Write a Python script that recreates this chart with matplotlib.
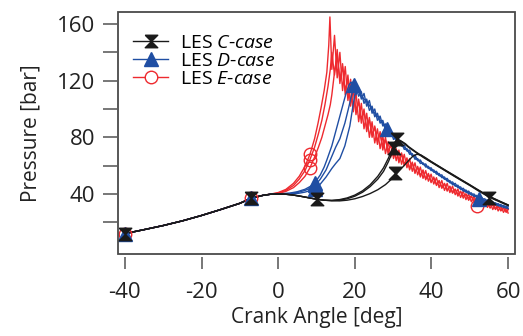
import matplotlib
matplotlib.use("Agg")
import matplotlib.pyplot as plt
from matplotlib.lines import Line2D
from matplotlib.patches import Rectangle

plt.rcParams["font.family"] = ["Open Sans", "DejaVu Sans"]
plt.rcParams["mathtext.fontset"] = "custom"
plt.rcParams["mathtext.rm"] = "Open Sans"
plt.rcParams["mathtext.it"] = "Open Sans:italic"
plt.rcParams["axes.unicode_minus"] = False

# compression stroke, shared by every cycle
COMP_CA = [-40, -35, -30, -25, -20, -15, -10, -7, -4]
COMP_P = [12.0, 14.8, 17.7, 21.0, 24.8, 29.0, 33.4, 37.0, 39.0]

# expansion samples (crank angle) used for the oscillating tails
GRID = [14.0, 14.7, 15.4, 16.1, 16.8, 17.5, 18.2, 18.9, 19.6, 20.3,
        21.0, 21.7, 22.4, 23.1, 23.8, 24.5, 25.2, 25.9, 26.6, 27.3,
        28.0, 28.7, 29.4, 30.1, 30.8, 31.5, 32.2, 32.9, 33.6, 34.3,
        35.0, 35.7, 36.4, 37.1, 37.8, 38.5, 39.2, 39.9, 40.6, 41.3,
        42.0, 42.7, 43.4, 44.1, 44.8, 45.5, 46.2, 46.9, 47.6, 48.3,
        49.0, 49.7, 50.4, 51.1, 51.8, 52.5, 53.2, 53.9, 54.6, 55.3,
        56.0, 56.7, 57.4, 58.1, 58.8, 59.5, 60.0]

# --- E-case (red) ---
E_RISE_CA = [
    [-2, 0, 2, 4, 5.5, 7, 8.3, 9.5, 10.4, 11.2, 12, 12.7, 13.2, 13.5],
    [-2, 0, 2, 4, 5.5, 7, 8.3, 9.5, 10.5, 11.4, 12.2, 13, 13.6],
    [-2, 0, 2, 4, 5.5, 7, 8.3, 9.5, 10.5, 11.4, 12.2, 13, 13.6],
]
E_RISE_P = [
    [39.9, 41.0, 43.2, 47.5, 52.5, 59.5, 68, 79, 90, 101, 113, 126, 145, 165],
    [39.8, 40.6, 42.5, 46, 50.5, 56.5, 64.3, 73, 82.5, 92, 103, 116, 128],
    [39.8, 40.3, 41.8, 44.5, 48, 52.5, 58.5, 66, 73, 80, 88, 96, 103],
]
E_TAIL = [
    [128, 152, 122, 140, 113, 130, 106, 121, 98, 112,
     91, 104, 86, 97, 80, 91, 76, 86, 72, 81,
     68.5, 77, 66, 74, 63.5, 71, 61, 68, 58.5, 65,
     56, 62, 53.5, 59, 51, 56.5, 49, 54, 47, 51.5,
     44.5, 49.5, 42.5, 47.5, 41, 45.5, 39.5, 43.5, 37.5, 42,
     36, 40, 34.5, 38.5, 33, 37, 31.5, 35.5, 30.5, 34,
     29, 33, 28, 31.5, 27, 30.5, 26.5],
    [140, 124, 142, 118, 132, 110, 124, 102, 116, 96,
     107, 90, 100, 84, 94, 80, 88, 75, 84, 71,
     80, 68, 76, 65, 72, 62, 69, 60, 65.5, 57,
     62.5, 54.5, 59.5, 52, 57, 50, 54.5, 48, 52, 46,
     49.5, 44, 47.5, 42, 45.5, 40.5, 43.5, 38.5, 42, 37,
     40, 35.5, 38.5, 34, 37, 32.5, 35.5, 31.5, 34, 30,
     32.5, 29, 31.5, 28, 30, 27, 29],
    [110, 126, 137, 121, 130, 113, 121, 105, 113, 99,
     105, 93, 98, 87, 92, 82, 87, 78, 82, 74,
     78, 70.5, 74.5, 67, 71, 64, 68, 61, 64.5, 58.5,
     61.5, 56, 58.5, 53.5, 56, 51, 53.5, 49, 51, 47,
     49, 45, 47, 43, 45, 41.5, 43, 40, 41.5, 38.5,
     40, 37, 38.5, 35.5, 37, 34, 35.5, 32.5, 34, 31.5,
     32.5, 30, 31, 29, 30, 28, 29],
]
E_MARK_CA = [-40, -7, 8.3, 8.3, 8.3, 51.9]
E_MARK_P = [12, 37, 68, 64.3, 58.5, 31.5]

# --- D-case (blue) ---
D_RISE_CA = [
    [-2, 1, 3, 5, 7, 8.5, 9.6, 11, 12, 12.7, 14, 15.2, 16.5, 17.6, 18.5, 19.0],
    [-2, 1, 3, 5, 7, 8.5, 9.6, 11, 12.5, 14, 15, 16.1, 17.4, 18.4, 19.0],
    [-2, 1, 3, 5, 7, 8.5, 9.6, 11, 12.5, 14, 15, 16.1, 17.4, 18.7, 19.5, 20.0],
]
D_RISE_P = [
    [39.8, 40.2, 40.6, 41.6, 43.3, 45.5, 48, 53.5, 59, 64, 74, 86, 99, 110, 117, 119],
    [39.8, 40.1, 40.3, 41.0, 42.5, 44.2, 46, 50.5, 57, 66.6, 73, 79, 90, 101, 108],
    [39.8, 40.0, 40.0, 40.3, 41.3, 42.5, 43.8, 47, 52, 58, 61.5, 65, 74, 88, 102, 110],
]
D_TAIL = [
    [117, 110,
     115, 107, 111, 102, 106, 97, 100, 92, 95, 88,
     89.5, 83, 84.5, 78.5, 80, 75, 76, 71.5, 72, 68,
     68.5, 64.5, 65, 61.5, 62, 59, 59.5, 56.5, 57, 54,
     54.5, 51.5, 52, 49, 49.5, 46.5, 47.5, 44.5, 45, 42,
     42.8, 40, 40.8, 38.2, 39, 36.5, 37.3, 35, 35.8, 33.6,
     34.5, 32.4, 33.2, 31.3, 32, 30.3, 31],
    [114, 116,
     109, 112, 104, 107, 99, 102, 94.5, 97, 90, 92,
     85.5, 87, 81.5, 82.5, 78, 78.5, 74, 74.5, 70.5, 71,
     67, 67.5, 63.5, 64, 60.8, 61.2, 58, 58.5, 55.5, 56,
     53, 53.5, 50.5, 51, 48, 48.5, 45.8, 46.2, 43.5, 44,
     41.5, 42, 39.5, 40, 37.8, 38.3, 36.2, 36.6, 34.8, 35.2,
     33.4, 33.8, 32.2, 32.6, 31, 31.4, 30],
    [113,
     112, 109.5, 107, 105, 102.5, 100, 97, 95, 92, 90,
     86.5, 85, 82, 80.5, 78, 76.5, 74, 73, 70.5, 69.5,
     67, 66, 63.8, 63, 61, 60.2, 58.2, 57.6, 55.6, 55,
     53, 52.4, 50.5, 49.9, 48, 47.4, 45.6, 45, 43.4, 42.8,
     41.3, 40.8, 39.4, 38.9, 37.6, 37.1, 36, 35.5, 34.4, 34,
     33, 32.6, 31.7, 31.3, 30.5, 30.2, 29.6],
]
D_MARK_CA = [-40, -7, 9.6, 9.6, 9.6, 19.8, 28.3, 52.5]
D_MARK_P = [12, 37, 48, 46, 43.8, 117, 85.7, 36.5]

# --- C-case (black), smooth traces ---
C_CA = [
    [-2, 0, 2, 4, 6, 8, 10, 12, 14, 16, 18, 20, 22, 24, 26, 27.5, 28.8, 29.8,
     30.5, 31, 32, 34, 36, 38, 40, 42, 44, 46, 48, 50, 52, 54, 56, 58, 60],
    [-2, 0, 2, 4, 6, 8, 10, 12, 14, 16, 18, 20, 22, 24, 26, 27.5, 28.8, 29.7,
     30.5, 31.3, 32.3, 33.2, 34, 36, 38, 40, 42, 44, 46, 48, 50, 52, 54, 56, 58, 60],
    [-2, 0, 2, 4, 6, 8, 10, 12, 14, 16, 18, 20, 22, 24, 26, 28, 30, 31, 32.5,
     34, 35.2, 36.2, 37.2, 38.5, 40, 42, 44, 46, 48, 50, 52, 54, 56, 58, 60],
]
C_P = [
    [39.8, 40.0, 39.8, 39.2, 38.3, 37.3, 36.3, 35.6, 35.5, 36, 37.2, 39.2, 42.2,
     46.5, 52.5, 58.5, 65.5, 72, 76.5, 78.6, 77.6, 73, 69.2, 65.6, 62.3, 59,
     55.7, 52.4, 49.2, 46, 42.6, 39.4, 36.6, 34.2, 31.8],
    [39.8, 40.0, 39.8, 39.2, 38.3, 37.3, 36.3, 35.6, 35.3, 35.6, 36.6, 38.4,
     41.2, 45.2, 50.5, 56, 63, 69, 74, 76.5, 77, 75.5, 73.5, 69.6, 66, 62.6,
     59.3, 56, 52.7, 49.5, 46.3, 43, 39.8, 37, 34.5, 32.1],
    [39.8, 40.0, 39.8, 39.2, 38.3, 37.3, 36.3, 35.6, 35.2, 35.1, 35.6, 36.6,
     38.2, 40.3, 43, 46.6, 51.5, 54.5, 59, 63.5, 66.8, 68, 67.6, 65.5, 62.8,
     59.5, 56.2, 53, 49.7, 46.5, 43.2, 40, 37.2, 34.7, 32.3],
]
C_MARK_CA = [-40, -7, 10, 31, 30.2, 30.5, 55]
C_MARK_P = [12, 37, 36.3, 78.6, 72.5, 54.5, 37.5]

LABELS = [r"LES $\mathit{C}$-$\mathit{case}$",
          r"LES $\mathit{D}$-$\mathit{case}$",
          r"LES $\mathit{E}$-$\mathit{case}$"]

BLACK = "#1a1a1a"
BLUE = "#1f4ea3"
RED = "#ee2a2f"
FRAME = "#4a4a4a"
HOURGLASS = [(-1, 1), (1, 1), (0, 0), (1, -1), (-1, -1), (0, 0), (-1, 1)]


def on_grid(vals):
    return GRID[len(GRID) - len(vals):]


fig = plt.figure(figsize=(5.23, 3.36), dpi=100)
ax = fig.add_axes([118 / 523, 1 - 254 / 336, 397 / 523, 242 / 336])

for ca, p, tail in zip(E_RISE_CA, E_RISE_P, E_TAIL):
    ax.plot(COMP_CA + ca + on_grid(tail), COMP_P + p + tail, color=RED, lw=1.0)
for ca, p, tail in zip(D_RISE_CA, D_RISE_P, D_TAIL):
    ax.plot(COMP_CA + ca + on_grid(tail), COMP_P + p + tail, color=BLUE, lw=1.0)
for ca, p in zip(C_CA, C_P):
    ax.plot(COMP_CA + ca, COMP_P + p, color=BLACK, lw=1.0)

ax.plot(E_MARK_CA, E_MARK_P, ls="none", marker="o", ms=9, mfc="none",
        mec=RED, mew=1.0)
ax.plot(D_MARK_CA, D_MARK_P, ls="none", marker="^", ms=10, color=BLUE)
ax.plot(C_MARK_CA, C_MARK_P, ls="none", marker=HOURGLASS, ms=9, color=BLACK)

handles = [
    Line2D([], [], color=BLACK, lw=1.0, marker=HOURGLASS, ms=9),
    Line2D([], [], color=BLUE, lw=1.0, marker="^", ms=10),
    Line2D([], [], color=RED, lw=1.0, marker="o", ms=9, mfc="white",
           mec=RED, mew=1.0),
]
ax.legend(handles, LABELS, loc="upper left", bbox_to_anchor=(0.038, 0.91),
          frameon=False, fontsize=14, handlelength=1.8, handletextpad=0.6,
          labelspacing=0.0, borderpad=0, borderaxespad=0)

ax.set_xlim(-41.8, 61.8)
ax.set_ylim(-2.4, 168.5)
ax.set_xticks([-40, -20, 0, 20, 40, 60])
ax.set_yticks([20, 40, 60, 80, 100, 120, 140, 160])
ax.set_yticklabels(["", "40", "", "80", "", "120", "", "160"])

for side in ["top", "right", "bottom", "left"]:
    ax.spines[side].set_color("none")
ax.spines["bottom"].set_position(("outward", 2.2))
ax.spines["left"].set_position(("outward", 0.7))
ax.add_patch(Rectangle((0, 0), 1, 1, transform=ax.transAxes, fill=False,
                       ec=FRAME, lw=1.3, clip_on=False, zorder=5))

ax.tick_params(axis="x", direction="out", length=8.6, width=1.2, color="#606060",
               labelsize=16, pad=9, labelcolor="#222222")
ax.tick_params(axis="y", direction="out", length=10, width=1.2, color="#606060",
               labelsize=16, pad=5.5, labelcolor="#222222")

ax.set_xlabel("Crank Angle [deg]", fontsize=15, color="#222222", labelpad=3)
ax.set_ylabel("Pressure [bar]", fontsize=15, color="#222222", labelpad=11)

fig.savefig("out.png", dpi=100)
